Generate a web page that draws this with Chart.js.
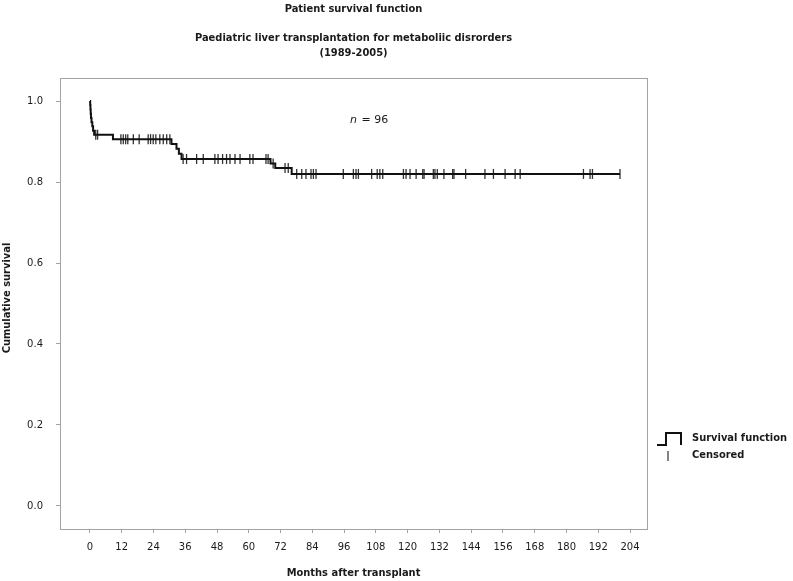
<!DOCTYPE html>
<html>
<head>
<meta charset="utf-8">
<title>Patient survival function</title>
<script src="https://cdn.jsdelivr.net/npm/chart.js@4.4.1/dist/chart.umd.min.js"></script>
<style>
  html, body { margin: 0; padding: 0; background: #fff; }
  #wrap { width: 793px; height: 581px; }
</style>
</head>
<body>
<div id="wrap"><canvas id="km" width="793" height="581"></canvas></div>
<script>
// Kaplan-Meier steps (month of each drop, survival after it)
const stepMonths = [0, 0.1, 0.2, 0.3, 0.4, 0.6, 0.9, 1.2, 1.6, 8.7, 30.8, 32.7, 33.6, 34.6, 68.2, 70.0, 76.2, 200.2];
const stepSurvival = [1.0, 0.990, 0.979, 0.969, 0.958, 0.948, 0.938, 0.927, 0.917, 0.906, 0.894, 0.882, 0.870, 0.857, 0.846, 0.835, 0.820, 0.820];

// censored cases
const censorMonths = [
  2.2, 2.9,
  11.7, 12.6, 13.5, 14.3, 16.4, 18.6, 22.0, 22.9, 23.9, 24.9, 26.4, 27.7, 29.0, 30.2,
  35.2, 36.5, 40.3, 42.8, 47.2, 48.4, 50.1, 51.6, 52.9, 54.8, 56.7, 60.4, 61.6, 66.5, 67.3,
  69.2,
  73.7, 74.9,
  78.1, 80.0, 81.6, 83.5, 84.4, 85.4, 95.7, 99.5, 100.5, 101.4, 106.4, 108.5, 109.5, 110.6,
  118.4, 119.4, 120.9, 123.2, 125.7, 126.2, 129.7, 130.3, 131.2, 133.7, 137.0, 137.5, 141.9,
  149.2, 152.4, 156.8, 160.6, 162.5, 186.4, 188.9, 189.8, 200.2
];
const censorSurvival = [
  0.917, 0.917,
  0.906, 0.906, 0.906, 0.906, 0.906, 0.906, 0.906, 0.906, 0.906, 0.906, 0.906, 0.906, 0.906, 0.906,
  0.857, 0.857, 0.857, 0.857, 0.857, 0.857, 0.857, 0.857, 0.857, 0.857, 0.857, 0.857, 0.857, 0.857, 0.857,
  0.846,
  0.835, 0.835,
  0.820, 0.820, 0.820, 0.820, 0.820, 0.820, 0.820, 0.820, 0.820, 0.820, 0.820, 0.820, 0.820, 0.820,
  0.820, 0.820, 0.820, 0.820, 0.820, 0.820, 0.820, 0.820, 0.820, 0.820, 0.820, 0.820, 0.820,
  0.820, 0.820, 0.820, 0.820, 0.820, 0.820, 0.820, 0.820, 0.820
];

const xTicks = [0, 12, 24, 36, 48, 60, 72, 84, 96, 108, 120, 132, 144, 156, 168, 180, 192, 204];
const yTicks = [0, 0.2, 0.4, 0.6, 0.8, 1.0];

const titleLines = ["Patient survival function", "Paediatric liver transplantation for metaboliic disrorders", "(1989-2005)"];

const frameColor = "#a3a3a3";
const textColor = "#1a1a1a";
const boldFont = "bold 11px 'DejaVu Sans Condensed', 'DejaVu Sans', sans-serif";

const decorations = {
  id: "decorations",
  beforeDatasetsDraw(chart) {
    const { ctx, chartArea: a } = chart;
    ctx.save();
    ctx.strokeStyle = frameColor;
    ctx.lineWidth = 1;
    ctx.strokeRect(a.left + 0.5, a.top + 0.5, a.right - a.left, a.bottom - a.top);
    ctx.restore();
  },
  afterDraw(chart) {
    const { ctx, chartArea: a } = chart;
    const cx = (a.left + a.right) / 2;
    ctx.save();
    ctx.fillStyle = textColor;
    ctx.font = boldFont;
    ctx.textAlign = "center";
    ctx.textBaseline = "middle";
    ctx.fillText(titleLines[0], cx, 9);
    ctx.fillText(titleLines[1], cx, 38);
    ctx.fillText(titleLines[2], cx, 53);

    // axis titles
    ctx.fillText("Months after transplant", cx, 573);
    ctx.save();
    ctx.translate(7, 298);
    ctx.rotate(-Math.PI / 2);
    ctx.fillText("Cumulative survival", 0, 0);
    ctx.restore();

    // n = 96
    ctx.font = "italic 11px 'DejaVu Sans', sans-serif";
    ctx.textAlign = "left";
    ctx.fillText("n", 350, 120);
    ctx.font = "11px 'DejaVu Sans', sans-serif";
    ctx.fillText(" = 96", 350 + ctx.measureText("n").width + 1, 120);

    // legend
    ctx.strokeStyle = "#111";
    ctx.lineWidth = 2;
    ctx.beginPath();
    ctx.moveTo(657, 445);
    ctx.lineTo(666, 445);
    ctx.lineTo(666, 433);
    ctx.lineTo(681, 433);
    ctx.lineTo(681, 445);
    ctx.stroke();
    ctx.lineWidth = 1.2;
    ctx.strokeStyle = "#333";
    ctx.beginPath();
    ctx.moveTo(668, 451);
    ctx.lineTo(668, 461);
    ctx.stroke();
    ctx.font = boldFont;
    ctx.fillStyle = textColor;
    ctx.fillText("Survival function", 692, 438);
    ctx.fillText("Censored", 692, 455);
    ctx.restore();
  }
};

const ctx = document.getElementById("km").getContext("2d");
new Chart(ctx, {
  type: "line",
  data: {
    datasets: [
      {
        label: "Survival function",
        data: stepMonths.map((m, i) => ({ x: m, y: stepSurvival[i] })),
        stepped: "before",
        borderColor: "#111",
        borderWidth: 2,
        pointRadius: 0,
        fill: false,
      },
      {
        type: "scatter",
        label: "Censored",
        data: censorMonths.map((m, i) => ({ x: m, y: censorSurvival[i] })),
        pointStyle: "line",
        pointRotation: 90,
        pointRadius: 5,
        borderColor: "#333",
        borderWidth: 1.3,
        showLine: false,
      },
    ],
  },
  options: {
    responsive: false,
    animation: false,
    devicePixelRatio: 1,
    layout: { padding: { top: 78, right: 146, bottom: 0, left: 0 } },
    plugins: {
      legend: { display: false },
      tooltip: { enabled: false },
      title: { display: false },
    },
    scales: {
      x: {
        type: "linear",
        min: -11.3,
        max: 210.4,
        afterBuildTicks: (s) => { s.ticks = xTicks.map((v) => ({ value: v })); },
        afterFit: (s) => { s.height = 52; },
        grid: { drawOnChartArea: false, drawTicks: true, tickLength: 4, color: frameColor },
        border: { display: false },
        ticks: {
          autoSkip: false,
          maxRotation: 0,
          padding: 8,
          color: textColor,
          font: { family: "'DejaVu Sans', sans-serif", size: 10 },
          callback: (v) => String(v),
        },
      },
      y: {
        type: "linear",
        min: -0.057,
        max: 1.057,
        afterBuildTicks: (s) => { s.ticks = yTicks.map((v) => ({ value: v })); },
        afterFit: (s) => { s.width = 60; },
        grid: { drawOnChartArea: false, drawTicks: true, tickLength: 4, color: frameColor },
        border: { display: false },
        ticks: {
          padding: 13,
          color: textColor,
          font: { family: "'DejaVu Sans', sans-serif", size: 10 },
          callback: (v) => Number(v).toFixed(1),
        },
      },
    },
  },
  plugins: [decorations],
});
</script>
</body>
</html>
